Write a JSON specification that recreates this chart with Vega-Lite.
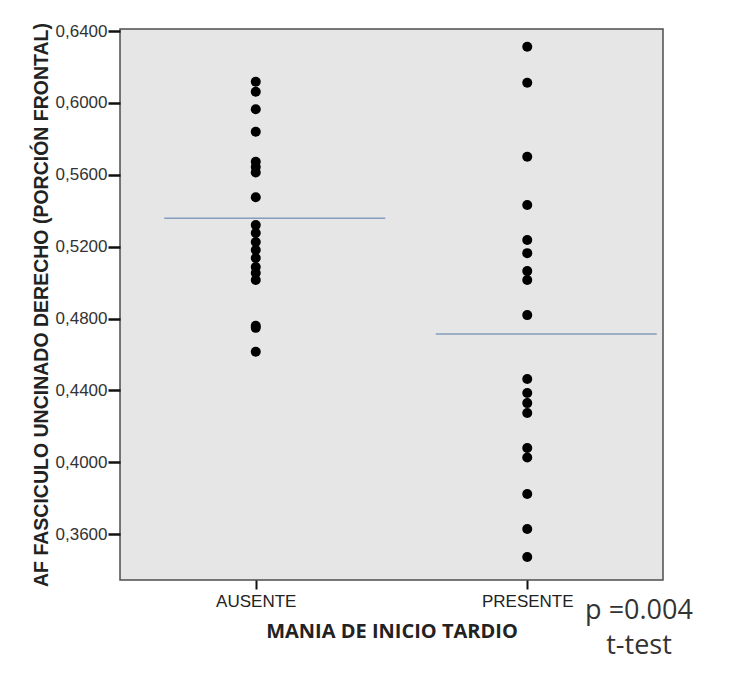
{
  "$schema": "https://vega.github.io/schema/vega-lite/v6.json",
  "width": 543,
  "height": 551,
  "autosize": {"type": "none"},
  "padding": {"left": 120, "top": 29, "right": 72, "bottom": 101},
  "background": "white",
  "config": {
    "view": {"fill": "#e6e6e6", "stroke": "#4d4d4d", "strokeWidth": 1.5}
  },
  "title": {
    "text": "p =0.004",
    "subtitle": "t-test",
    "orient": "bottom",
    "anchor": "end",
    "align": "center",
    "dx": -24,
    "offset": -43,
    "font": "Open Sans",
    "fontSize": 27,
    "fontWeight": "normal",
    "color": "#333333",
    "subtitleFont": "Open Sans",
    "subtitleFontSize": 27,
    "subtitleColor": "#333333",
    "subtitlePadding": 8
  },
  "datasets": {
    "puntos": [
      {"grupo": "AUSENTE", "af": 0.6118},
      {"grupo": "AUSENTE", "af": 0.6063},
      {"grupo": "AUSENTE", "af": 0.5965},
      {"grupo": "AUSENTE", "af": 0.5840},
      {"grupo": "AUSENTE", "af": 0.5673},
      {"grupo": "AUSENTE", "af": 0.5643},
      {"grupo": "AUSENTE", "af": 0.5613},
      {"grupo": "AUSENTE", "af": 0.5475},
      {"grupo": "AUSENTE", "af": 0.5320},
      {"grupo": "AUSENTE", "af": 0.5276},
      {"grupo": "AUSENTE", "af": 0.5226},
      {"grupo": "AUSENTE", "af": 0.5181},
      {"grupo": "AUSENTE", "af": 0.5137},
      {"grupo": "AUSENTE", "af": 0.5087},
      {"grupo": "AUSENTE", "af": 0.5053},
      {"grupo": "AUSENTE", "af": 0.5014},
      {"grupo": "AUSENTE", "af": 0.4760},
      {"grupo": "AUSENTE", "af": 0.4748},
      {"grupo": "AUSENTE", "af": 0.4615},
      {"grupo": "PRESENTE", "af": 0.6313},
      {"grupo": "PRESENTE", "af": 0.6113},
      {"grupo": "PRESENTE", "af": 0.5701},
      {"grupo": "PRESENTE", "af": 0.5432},
      {"grupo": "PRESENTE", "af": 0.5237},
      {"grupo": "PRESENTE", "af": 0.5164},
      {"grupo": "PRESENTE", "af": 0.5064},
      {"grupo": "PRESENTE", "af": 0.5014},
      {"grupo": "PRESENTE", "af": 0.4819},
      {"grupo": "PRESENTE", "af": 0.4463},
      {"grupo": "PRESENTE", "af": 0.4385},
      {"grupo": "PRESENTE", "af": 0.4329},
      {"grupo": "PRESENTE", "af": 0.4274},
      {"grupo": "PRESENTE", "af": 0.4079},
      {"grupo": "PRESENTE", "af": 0.4026},
      {"grupo": "PRESENTE", "af": 0.3823},
      {"grupo": "PRESENTE", "af": 0.3628},
      {"grupo": "PRESENTE", "af": 0.3472}
    ],
    "medias": [
      {"grupo": "AUSENTE", "media": 0.5358},
      {"grupo": "PRESENTE", "media": 0.4714}
    ]
  },
  "encoding": {
    "x": {
      "field": "grupo",
      "type": "nominal",
      "scale": {"type": "point", "padding": 0.5, "domain": ["AUSENTE", "PRESENTE"]},
      "axis": {
        "title": "MANIA DE INICIO TARDIO",
        "titleFont": "Open Sans",
        "titleFontSize": 20,
        "titleFontWeight": "bold",
        "titleColor": "#222222",
        "titlePadding": 12,
        "labelFont": "Liberation Sans",
        "labelFontSize": 17,
        "labelColor": "#222222",
        "labelAngle": 0,
        "labelPadding": 4,
        "domain": false,
        "ticks": true,
        "tickColor": "#111111",
        "tickWidth": 2,
        "tickSize": 9,
        "grid": false
      }
    }
  },
  "layer": [
    {
      "data": {"name": "puntos"},
      "mark": {"type": "circle", "size": 100, "color": "#000000", "opacity": 1},
      "encoding": {
        "y": {
          "field": "af",
          "type": "quantitative",
          "scale": {"domain": [0.3344, 0.6412], "nice": false, "zero": false},
          "axis": {
            "title": "AF FASCICULO UNCINADO DERECHO (PORCIÓN FRONTAL)",
            "titleFont": "Liberation Sans",
            "titleFontSize": 19.5,
            "titleFontWeight": "bold",
            "titleColor": "#222222",
            "titlePadding": 4,
            "values": [0.36, 0.40, 0.44, 0.48, 0.52, 0.56, 0.60, 0.64],
            "labelExpr": "replace(format(datum.value, '.4f'), '.', ',')",
            "labelFont": "Liberation Sans",
            "labelFontSize": 17,
            "labelColor": "#333333",
            "labelPadding": 1,
            "domain": false,
            "tickColor": "#111111",
            "tickWidth": 2.5,
            "tickSize": 12,
            "grid": false
          }
        }
      }
    },
    {
      "data": {"name": "medias"},
      "mark": {"type": "tick", "orient": "horizontal", "size": 221, "thickness": 1.5, "color": "#5b7fae", "xOffset": 19},
      "encoding": {
        "y": {"field": "media", "type": "quantitative"}
      }
    }
  ]
}
